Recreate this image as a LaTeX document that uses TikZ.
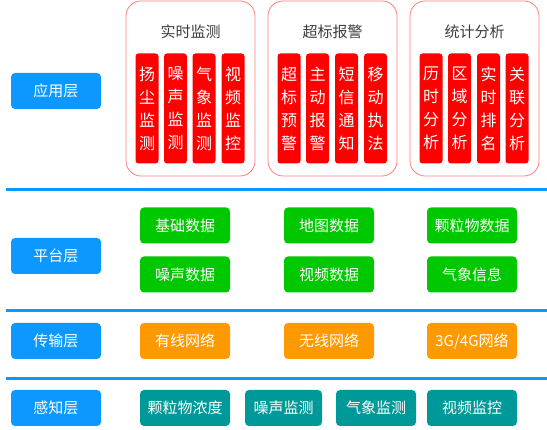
\documentclass[tikz,border=0pt]{standalone}
\usepackage{fontspec}
\newfontfamily\cjk{Noto Sans CJK SC}
\definecolor{layerblue}{RGB}{12,152,255}
\definecolor{grouprim}{RGB}{255,125,125}
\definecolor{colred}{RGB}{255,0,0}
\definecolor{datagreen}{RGB}{0,200,0}
\definecolor{netorange}{RGB}{255,153,0}
\definecolor{senseteal}{RGB}{0,153,153}
\definecolor{titlegray}{RGB}{60,60,60}

\begin{document}
\begin{tikzpicture}[
    x=1pt,
    y=-1pt,
    layer_style/.style={rectangle, rounded corners=4pt, fill=layerblue, text=white, minimum width=90pt, minimum height=36pt, inner sep=0pt, font=\cjk\fontsize{15pt}{18pt}\selectfont},
    group_style/.style={rectangle, rounded corners=15pt, draw=grouprim, line width=0.8pt, minimum width=129pt, minimum height=175pt, inner sep=0pt},
    title_style/.style={text=titlegray, inner sep=0pt, font=\cjk\fontsize{15pt}{18pt}\selectfont},
    col_style/.style={rectangle, rounded corners=3pt, fill=colred, text=white, minimum width=23pt, minimum height=110pt, inner sep=0pt, align=center, font=\cjk\fontsize{16pt}{23pt}\selectfont},
    box_style/.style={rectangle, rounded corners=4pt, text=white, minimum height=36pt, inner sep=0pt, font=\cjk\fontsize{15pt}{18pt}\selectfont},
    sep_line/.style={draw=layerblue, line width=3pt}
]
  \useasboundingbox (0,0) rectangle (547,430);
  % Layer separators
  \foreach \ly in {190, 311, 379} {
    \draw[sep_line] (6,\ly) -- (547,\ly);
  }
  % Layer names
  \foreach \ly/\lname/\ltext in {91/app/应用层, 256/plat/平台层, 341/trans/传输层, 408/sense/感知层} {
    \node[layer_style] (layer-\lname) at (56,\ly) {\ltext};
  }
  % Application groups
  \foreach \gx/\gname/\gtitle in {190.5/mon/实时监测, 332.5/alarm/超标报警, 474.5/stat/统计分析} {
    \node[group_style] (group-\gname) at (\gx,88.5) {};
    \node[title_style] (title-\gname) at (\gx,32) {\gtitle};
  }
  % Application functions, one column each
  \foreach \cx/\cname/\ctext in {
      147/mon-1/{扬\\尘\\监\\测}, 175.5/mon-2/{噪\\声\\监\\测}, 204/mon-3/{气\\象\\监\\测}, 233/mon-4/{视\\频\\监\\控},
      289/alarm-1/{超\\标\\预\\警}, 317.5/alarm-2/{主\\动\\报\\警}, 346.5/alarm-3/{短\\信\\通\\知}, 375.5/alarm-4/{移\\动\\执\\法},
      431/stat-1/{历\\时\\分\\析}, 459.5/stat-2/{区\\域\\分\\析}, 488.5/stat-3/{实\\时\\排\\名}, 517/stat-4/{关\\联\\分\\析}} {
    \node[col_style] (col-\cname) at (\cx,108.5) {\ctext};
  }
  % Platform data
  \foreach \dx/\dy/\dname/\dtext in {185/225.5/base/基础数据, 329/225.5/map/地图数据, 472/225.5/pm/颗粒物数据,
      185/274.5/noise/噪声数据, 329/274.5/video/视频数据, 472/274.5/weather/气象信息} {
    \node[box_style, fill=datagreen, minimum width=90pt] (data-\dname) at (\dx,\dy) {\dtext};
  }
  % Transport networks
  \foreach \nx/\nname/\ntext in {185/wired/有线网络, 329/wireless/无线网络, 472/mobile/{3G/4G网络}} {
    \node[box_style, fill=netorange, minimum width=90pt] (net-\nname) at (\nx,341) {\ntext};
  }
  % Sensing devices
  \foreach \sx/\sw/\sname/\stext in {185/90/pm/颗粒物浓度, 283.5/77/noise/噪声监测, 376/80/weather/气象监测, 472/90/video/视频监控} {
    \node[box_style, fill=senseteal, minimum width=\sw pt] (dev-\sname) at (\sx,408) {\stext};
  }
\end{tikzpicture}
\end{document}
